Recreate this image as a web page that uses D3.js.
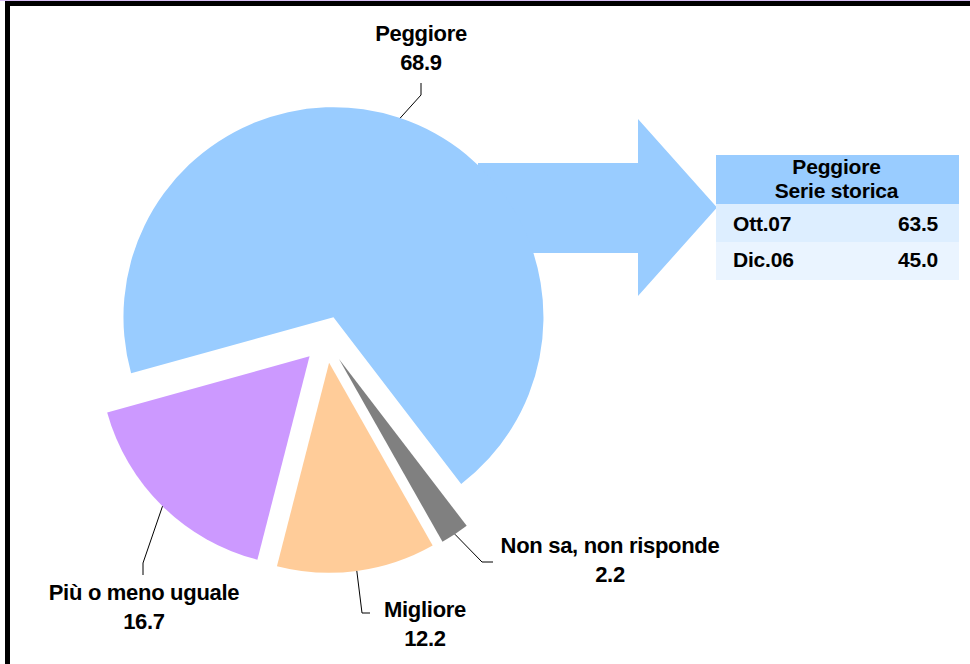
<!DOCTYPE html>
<html lang="it">
  <head>
    <meta charset="UTF-8" />
    <title>Peggiore</title>
    <script src="https://d3js.org/d3.v7.min.js"></script>
    <style>
      body { margin: 0; background: #fff; }
      text { font-family: 'Liberation Sans', Arial, sans-serif; font-weight: bold; fill: #000; }
    </style>
  </head>
  <body>
    <div class="chart"></div>
    <script>
      // dati
      var categories = ['Peggiore', 'Non sa, non risponde', 'Migliore', 'Più o meno uguale']
      var values = [68.9, 2.2, 12.2, 16.7]
      var colors = ['#99CCFF', '#808080', '#FFCC99', '#CC99FF']

      // serie storica
      var histTitle = ['Peggiore', 'Serie storica']
      var histLabels = ['Ott.07', 'Dic.06']
      var histValues = [63.5, 45.0]

      var width = 970
      var height = 664
      var cx = 326, cy = 339.5
      var radius = 210
      var explode = 23.5
      var startDeg = -105.5

      // posizione etichette (layout)
      var labelPos = {
        'Peggiore': { x: 421, y: 41, anchor: 'middle', line: [[421, 83], [421, 95]] },
        'Non sa, non risponde': { x: 610, y: 553, anchor: 'middle', line: [[493, 562], [482, 562]] },
        'Migliore': { x: 425, y: 617, anchor: 'middle', line: [[370, 613], [362, 613]] },
        'Più o meno uguale': { x: 144, y: 600, anchor: 'middle', line: [[143, 575], [143, 563]] }
      }

      var svg = d3.select('.chart').append('svg')
        .attr('width', width).attr('height', height)

      // cornice
      svg.append('rect').attr('x', 0).attr('y', 0).attr('width', width).attr('height', 1).attr('fill', '#d9bff5')
      svg.append('rect').attr('x', 5).attr('y', 1).attr('width', width - 5).attr('height', 5).attr('fill', '#000')
      svg.append('rect').attr('x', 5).attr('y', 1).attr('width', 5).attr('height', height).attr('fill', '#000')

      // freccia (dietro la torta)
      var arrow = [[478, 163], [638, 163], [638, 119], [717, 207.5], [638, 296], [638, 253], [478, 253]]
      svg.append('path')
        .attr('d', d3.line()(arrow) + 'Z')
        .attr('fill', colors[0])

      var pie = d3.pie().value(d => d).sort(null)
        .startAngle(startDeg * Math.PI / 180)
        .endAngle(startDeg * Math.PI / 180 + Math.PI * 2)
      var arcs = pie(values)
      var arc = d3.arc().innerRadius(0).outerRadius(radius)

      function offset(d, r) {
        var a = (d.startAngle + d.endAngle) / 2
        return [Math.sin(a) * r, -Math.cos(a) * r]
      }

      var g = svg.append('g').attr('transform', 'translate(' + cx + ',' + cy + ')')

      g.selectAll('path.slice')
        .data(arcs)
        .enter()
        .append('path')
        .attr('class', 'slice')
        .attr('fill', (d, i) => colors[i])
        .attr('transform', d => 'translate(' + offset(d, explode) + ')')
        .attr('d', arc)

      // linee guida
      g.selectAll('path.leader')
        .data(arcs)
        .enter()
        .append('path')
        .attr('class', 'leader')
        .attr('fill', 'none')
        .attr('stroke', '#000')
        .attr('stroke-width', 1)
        .attr('d', (d, i) => {
          var p = offset(d, explode + radius)
          var lp = labelPos[categories[i]].line
          var pts = [lp[0], lp[1]].map(q => [q[0] - cx, q[1] - cy])
          pts.push(p)
          return d3.line()(pts)
        })

      // etichette
      categories.forEach((c, i) => {
        var lp = labelPos[c]
        var t = svg.append('text')
          .attr('x', lp.x).attr('y', lp.y)
          .attr('text-anchor', lp.anchor)
          .style('font-size', '22px')
          .style('letter-spacing', '-0.3px')
        t.append('tspan').attr('x', lp.x).text(c)
        t.append('tspan').attr('x', lp.x).attr('dy', 29).text(values[i].toFixed(1))
      })

      // tabella serie storica
      var tx = 716, tw = 243
      var rowY = [204, 242]
      var rowH = 38
      var rowFill = ['#DDEEFF', '#EAF4FF']
      svg.append('rect').attr('x', tx).attr('y', 155).attr('width', tw).attr('height', 49).attr('fill', colors[0])
      histTitle.forEach((s, i) => {
        svg.append('text')
          .attr('x', tx + tw / 2 - 1).attr('y', 174 + i * 24)
          .attr('text-anchor', 'middle')
          .style('font-size', '21px')
          .style('letter-spacing', '-0.2px')
          .text(s)
      })
      histLabels.forEach((s, i) => {
        svg.append('rect').attr('x', tx).attr('y', rowY[i]).attr('width', tw).attr('height', rowH).attr('fill', rowFill[i])
        svg.append('text')
          .attr('x', 733).attr('y', rowY[i] + 27 - i * 2)
          .style('font-size', '21px')
          .style('letter-spacing', '-0.2px')
          .text(s)
        svg.append('text')
          .attr('x', 938).attr('y', rowY[i] + 27 - i * 2)
          .attr('text-anchor', 'end')
          .style('font-size', '21px')
          .style('letter-spacing', '-0.2px')
          .text(histValues[i].toFixed(1))
      })
    </script>
  </body>
</html>
